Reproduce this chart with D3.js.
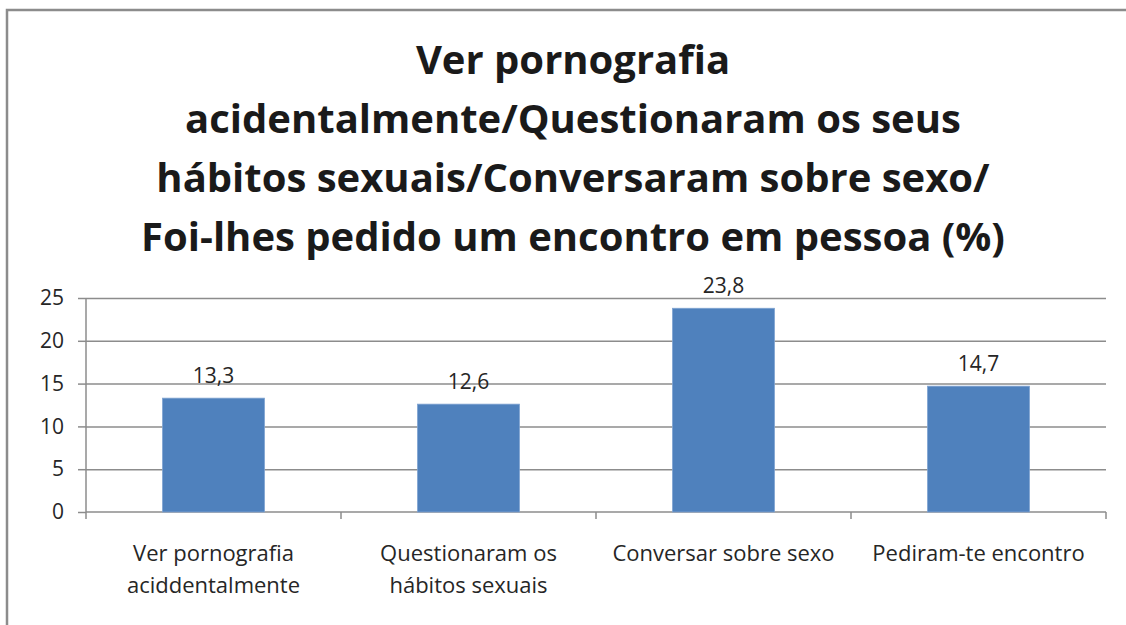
<!DOCTYPE html>
<html>
<head>
<meta charset="utf-8">
<script src="https://cdn.jsdelivr.net/npm/d3@7"></script>
<style>
    body { margin: 0; background: #fff; overflow: hidden; }
    svg { display: block; }
    .grid line { stroke: #8c8c8c; stroke-width: 1.5; }
    .grid path { display: none; }
    .axis path, .axis line { stroke: #8c8c8c; stroke-width: 1.5; }
    .axis text { font-family: 'Open Sans', sans-serif; font-size: 21px; fill: #262626; }
    .axis .xlabel { font-size: 22px; }
</style>
</head>
<body>
<div id="chart"></div>
<script>
// Chart data
const categories = [
    ['Ver pornografia', 'aciddentalmente'],
    ['Questionaram os', 'hábitos sexuais'],
    ['Conversar sobre sexo'],
    ['Pediram-te encontro']
];
const values = [13.3, 12.6, 23.8, 14.7];
const yTicks = [0, 5, 10, 15, 20, 25];
const titleLines = [
    'Ver pornografia',
    'acidentalmente/Questionaram os seus',
    'hábitos sexuais/Conversaram sobre sexo/',
    'Foi-lhes pedido um encontro em pessoa (%)'
];

const CHART_WIDTH = 1126;
const CHART_HEIGHT = 625;
const MARGIN = { top: 298, right: 20, bottom: 113, left: 86 };

const svg = d3.select('#chart').append('svg')
    .attr('width', CHART_WIDTH)
    .attr('height', CHART_HEIGHT);

// Outer frame: only the top and left edges fall inside the picture
svg.append('path')
    .attr('d', `M7,${CHART_HEIGHT + 5}V10H${CHART_WIDTH + 5}`)
    .attr('fill', 'none')
    .attr('stroke', '#8c8c8c')
    .attr('stroke-width', 2.5);

// Title
svg.append('g')
    .selectAll('text')
    .data(titleLines)
    .enter().append('text')
    .attr('x', 573)
    .attr('y', (d, i) => 74 + i * 59)
    .attr('text-anchor', 'middle')
    .attr('font-family', "'Open Sans', sans-serif")
    .attr('font-weight', 'bold')
    .attr('font-size', '40px')
    .attr('fill', '#1a1a1a')
    .text(d => d);

const width = CHART_WIDTH - MARGIN.left - MARGIN.right;
const height = CHART_HEIGHT - MARGIN.top - MARGIN.bottom;

const g = svg.append('g')
    .attr('transform', `translate(${MARGIN.left},${MARGIN.top})`);

// Scales
const x = d3.scaleBand()
    .domain(d3.range(values.length))
    .range([0, width])
    .padding(0);

const y = d3.scaleLinear()
    .domain([0, 25])
    .range([height, 0]);

// Grid lines
g.append('g')
    .attr('class', 'grid')
    .call(d3.axisLeft(y)
        .tickValues(yTicks.slice(1))
        .tickSize(-width)
        .tickFormat(''));

// Y-axis
g.append('g')
    .attr('class', 'axis')
    .call(d3.axisLeft(y)
        .tickValues(yTicks)
        .tickSize(8)
        .tickPadding(14)
        .tickFormat(d => d))
    .select('.domain')
    .attr('d', `M0,0V${height}`);

// X-axis: ticks on category boundaries
const xAxis = g.append('g')
    .attr('class', 'axis')
    .attr('transform', `translate(0,${height})`);

xAxis.append('line')
    .attr('x1', 0)
    .attr('x2', width)
    .attr('y1', 0)
    .attr('y2', 0);

xAxis.selectAll('.xtick')
    .data(d3.range(values.length + 1))
    .enter().append('line')
    .attr('class', 'xtick')
    .attr('x1', d => d * x.step())
    .attr('x2', d => d * x.step())
    .attr('y1', 0)
    .attr('y2', 7);

// Category labels
const labels = xAxis.selectAll('.xlabel')
    .data(categories)
    .enter().append('text')
    .attr('class', 'xlabel')
    .attr('text-anchor', 'middle')
    .attr('transform', (d, i) => `translate(${x(i) + x.bandwidth() / 2},0)`);

labels.selectAll('tspan')
    .data(d => d)
    .enter().append('tspan')
    .attr('x', 0)
    .attr('y', (d, i) => 49 + i * 32)
    .text(d => d);

// Bars
const barWidth = x.bandwidth() * 0.4;

g.selectAll('.bar')
    .data(values)
    .enter().append('rect')
    .attr('class', 'bar')
    .attr('x', (d, i) => x(i) + (x.bandwidth() - barWidth) / 2)
    .attr('y', d => y(d))
    .attr('width', barWidth)
    .attr('height', d => height - y(d))
    .attr('fill', '#4f81bd')
    .attr('stroke', '#7fa3d1')
    .attr('stroke-width', 0.8);

// Data labels
g.selectAll('.value')
    .data(values)
    .enter().append('text')
    .attr('class', 'value')
    .attr('x', (d, i) => x(i) + x.bandwidth() / 2)
    .attr('y', d => y(d) - 15)
    .attr('text-anchor', 'middle')
    .attr('font-family', "'Open Sans', sans-serif")
    .attr('font-size', '21px')
    .attr('fill', '#262626')
    .text(d => d.toFixed(1).replace('.', ','));
</script>
</body>
</html>
